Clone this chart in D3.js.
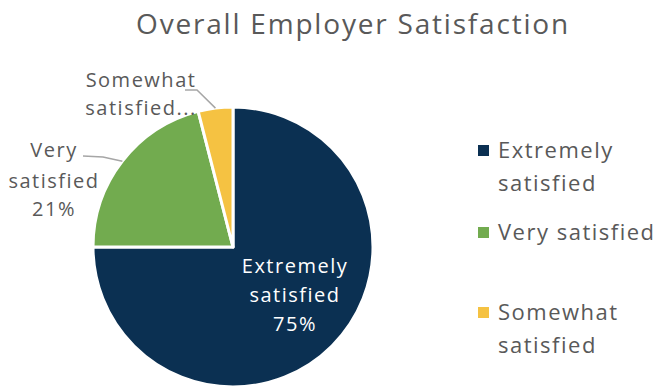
<!DOCTYPE html>
<html>
<head>
<meta charset="utf-8">
<script src="https://cdn.jsdelivr.net/npm/d3@7"></script>
<style>
  body { margin: 0; background: #fff; }
  text { font-family: "Open Sans", sans-serif; }
</style>
</head>
<body>
<script>
const width = 659;
const height = 389;

const categories = ["Extremely satisfied", "Very satisfied", "Somewhat satisfied"];
const values = [75, 21, 4];
const colors = ["#0b3052", "#72ab4f", "#f5c242"];

const svg = d3.select("body")
  .append("svg")
  .attr("width", width)
  .attr("height", height);

svg.append("text")
  .attr("x", 353)
  .attr("y", 34)
  .attr("text-anchor", "middle")
  .attr("fill", "#595959")
  .style("font-size", "28px")
  .style("letter-spacing", "1.8px")
  .text("Overall Employer Satisfaction");

const cx = 233, cy = 247, r = 140;

const pie = d3.pie().sort(null).value(d => d)(values);
const arc = d3.arc().innerRadius(0).outerRadius(r);

const g = svg.append("g").attr("transform", `translate(${cx},${cy})`);

g.selectAll("path")
  .data(pie)
  .enter()
  .append("path")
  .attr("d", arc)
  .attr("fill", (d, i) => colors[i])
  .attr("stroke", "#fff")
  .attr("stroke-width", 3)
  .attr("stroke-linejoin", "round");

// point on the outer edge at the middle of a slice
function edge(d) {
  const a = (d.startAngle + d.endAngle) / 2;
  return [cx + r * Math.sin(a), cy - r * Math.cos(a)];
}

// label for the big slice, inside
const inner = svg.append("text")
  .attr("text-anchor", "middle")
  .attr("fill", "#fff")
  .style("font-size", "20px")
  .style("letter-spacing", "1.5px");
[["Extremely", 273], ["satisfied", 302], [values[0] + "%", 331]].forEach(([t, y]) => {
  inner.append("tspan").attr("x", 295).attr("y", y).text(t);
});

// outside labels with leader lines
const outside = [
  { i: 1, lines: ["Very", "satisfied", values[1] + "%"], x: 54, y: [157, 188, 216], bend: [[83, 156], [103, 157]] },
  { i: 2, lines: ["Somewhat", "satisfied..."], x: 141, y: [87, 115], bend: [[185, 90], [197, 90]] }
];

outside.forEach(o => {
  const pts = o.bend.concat([edge(pie[o.i])]);
  svg.append("path")
    .attr("d", d3.line()(pts))
    .attr("fill", "none")
    .attr("stroke", "#a6a6a6")
    .attr("stroke-width", 1.5);
  const t = svg.append("text")
    .attr("text-anchor", "middle")
    .attr("fill", "#595959")
    .style("font-size", "20px")
    .style("letter-spacing", "1.5px");
  o.lines.forEach((s, k) => t.append("tspan").attr("x", o.x).attr("y", o.y[k]).text(s));
});

// legend
const legend = [
  { lines: ["Extremely", "satisfied"], y: 158 },
  { lines: ["Very satisfied"], y: 240 },
  { lines: ["Somewhat", "satisfied"], y: 320 }
];
legend.forEach((l, i) => {
  svg.append("rect")
    .attr("x", 478)
    .attr("y", l.y - 13)
    .attr("width", 11)
    .attr("height", 11)
    .attr("fill", colors[i]);
  const t = svg.append("text")
    .attr("fill", "#595959")
    .style("font-size", "22px")
    .style("letter-spacing", "1.5px");
  l.lines.forEach((s, k) => t.append("tspan").attr("x", 498).attr("y", l.y + k * 33).text(s));
});
</script>
</body>
</html>
